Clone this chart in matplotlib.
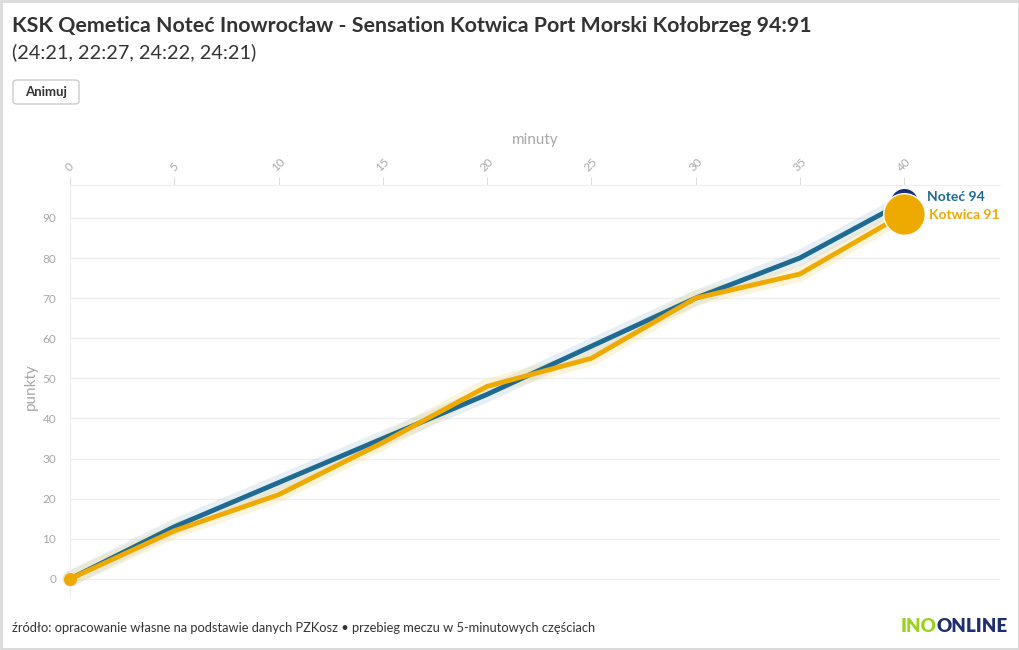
import numpy as np
import matplotlib.pyplot as plt
from matplotlib.patches import FancyBboxPatch, Rectangle

#%% Data
minutes = [0, 5, 10, 15, 20, 25, 30, 35, 40]
notec = [0, 13, 24, 35, 46, 58, 70, 80, 94]
kotwica = [0, 12, 21, 34, 48, 55, 70, 76, 91]
x_ticks = [0, 5, 10, 15, 20, 25, 30, 35, 40]
y_ticks = [0, 10, 20, 30, 40, 50, 60, 70, 80, 90]

blue = '#1f6a93'
gold = '#eeaa00'
grey = '#a8a8a8'

plt.rcParams['font.family'] = ['Lato', 'DejaVu Sans']

#%% Figure
fig = plt.figure(figsize=(10.2, 6.5), dpi=100)
fig.patches.append(Rectangle((0.001, 0.001), 0.998, 0.997, transform=fig.transFigure,
                             fill=False, edgecolor='#d9d9d9', linewidth=2))

fig.text(12/1020, 1-26/650, 'KSK Qemetica Noteć Inowrocław - Sensation Kotwica Port Morski Kołobrzeg 94:91',
         fontsize=15.4, fontweight='bold', color='#333333', va='center')
fig.text(12/1020, 1-52/650, '(24:21, 22:27, 24:22, 24:21)', fontsize=14.3, color='#333333', va='center')

fig.patches.append(FancyBboxPatch((13/1020, 1-104/650), 66/1020, 24/650, transform=fig.transFigure,
                                  boxstyle='round,pad=0,rounding_size=0.004', facecolor='white',
                                  edgecolor='#cccccc', linewidth=1))
fig.text(46/1020, 1-92/650, 'Animuj', fontsize=9.5, fontweight='bold', color='#333333', ha='center', va='center')

ax = fig.add_axes([70/1020, 1-597/650, 930/1020, (597-185)/650])
ax.set_xlim(0, 44.6)
ax.set_ylim(-4.5, 98.2)

# halo under lines
ax.plot(minutes, notec, color='#9fc3d6', linewidth=11, alpha=0.25, solid_capstyle='round', zorder=2, clip_on=False)
ax.plot(minutes, kotwica, color='#f3d57a', linewidth=11, alpha=0.25, solid_capstyle='round', zorder=2, clip_on=False)
ax.plot(minutes, notec, color=blue, linewidth=3.5, zorder=3)
ax.plot(minutes, kotwica, color=gold, linewidth=3.5, zorder=4)

ax.scatter([minutes[0]], [kotwica[0]], s=70, color=gold, zorder=5, clip_on=False)
ax.scatter([minutes[-1]], [notec[-1]], s=420, color='#1a2f7a', edgecolor='white', linewidth=1, zorder=5)
ax.scatter([minutes[-1]], [kotwica[-1]], s=900, color=gold, edgecolor='white', linewidth=1, zorder=6)

ax.text(minutes[-1] + 1.1, notec[-1] + 1.2, f'Noteć {notec[-1]}', color=blue, fontsize=10,
        fontweight='bold', va='center')
ax.text(minutes[-1] + 1.2, kotwica[-1] - 0.3, f'Kotwica {kotwica[-1]}', color=gold, fontsize=10,
        fontweight='bold', va='center')

ax.set_xticks(x_ticks)
ax.set_yticks(y_ticks)
ax.xaxis.tick_top()
ax.xaxis.set_label_position('top')
ax.tick_params(axis='x', colors='#dddddd', labelcolor=grey, labelsize=8.5, length=6, pad=2)
ax.tick_params(axis='y', length=0, labelcolor=grey, labelsize=8.5, pad=10)
for lbl in ax.get_xticklabels():
    lbl.set_rotation(45)
    lbl.set_ha('center')
    lbl.set_va('bottom')
ax.set_xlabel('minuty', color=grey, fontsize=11, labelpad=9)
ax.set_ylabel('punkty', color=grey, fontsize=11)
ax.yaxis.set_label_coords(-32/930, 0.51)

ax.grid(axis='y', color='#eeeeee', linewidth=1)
for s in ['right', 'bottom']:
    ax.spines[s].set_visible(False)
ax.spines['top'].set_color('#eeeeee')
ax.spines['left'].set_color('#eeeeee')
ax.set_axisbelow(True)

fig.text(12/1020, 1-628/650, 'źródło: opracowanie własne na podstawie danych PZKosz • przebieg meczu w 5-minutowych częściach',
         fontsize=9.3, color='#333333', va='center')
fig.text(937/1020, 1-626/650, 'INO', fontsize=13.5, fontweight='heavy', color='#9bd21f', ha='right', va='center')
fig.text(937/1020, 1-626/650, 'ONLINE', fontsize=13.5, fontweight='heavy', color='#1d2f6f', ha='left', va='center')

plt.savefig('out.png', dpi=100)
